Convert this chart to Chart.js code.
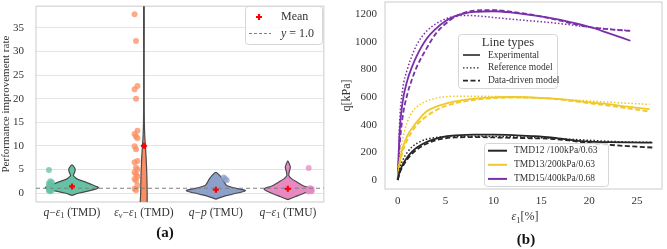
<!DOCTYPE html>
<html>
<head>
<meta charset="utf-8">
<script src="https://cdn.jsdelivr.net/npm/chart.js@4.4.1/dist/chart.umd.min.js"></script>
<style>
  body { margin: 0; background: #fff; }
  .panel { position: absolute; top: 0; height: 249px; }
  #panelA { left: 0; width: 330px; }
  #panelB { left: 330px; width: 337px; }
</style>
</head>
<body>
<div class="panel" id="panelA"><canvas id="violinChart"></canvas></div>
<div class="panel" id="panelB"><canvas id="curveChart"></canvas></div>
<script>
const SERIF = '"Liberation Serif", "DejaVu Serif", serif';
const TEXT = '#333333';

// (a) performance improvement rate
const groups = ['q−ε_1 (TMD)', 'ε_v−ε_1 (TMD)', 'q−p (TMU)', 'q−ε_1 (TMU)'];
const groupColors = ['#66c2a5', '#fc8d62', '#8da0cb', '#e78ac3'];
const ratesQE1TMD = [4.9, 2.5, 2.3, 2.1, 1.9, 1.7, 1.5, 1.4, 1.2, 1.1, 1.0, 0.9, 0.8, 0.7, 0.6, 0.5, 0.4];
const ratesEvE1TMD = [37.9, 32.2, 22.7, 22.0, 20.0, 13.2, 12.5, 12.0, 11.6, 9.9, 9.3, 6.8, 6.5, 5.4, 5.0, 4.4, 4.0, 3.5, 3.0, 2.6, 1.6, 0.9, 0.6];
const ratesQPTMU = [3.3, 3.0, 2.7, 0.9, 0.8, 0.7, 0.6, 0.5, 0.5, 0.4, 0.3, 0.2];
const ratesQE1TMU = [5.3, 1.0, 0.9, 0.8, 0.7, 0.6, 0.5, 0.5, 0.4, 0.3];
const groupMeans = [1.4, 10.0, 0.7, 0.9];
const referenceRate = 1.0;
const rateTicks = [0, 5, 10, 15, 20, 25, 30, 35];

// violin outlines as [rate, half width]
const violinQE1TMD = [[-0.5, 0], [0, 0.1], [0.5, 0.25], [1.1, 0.37], [1.7, 0.29], [2.3, 0.19], [3.0, 0.07], [3.7, 0.02], [4.3, 0.035], [5.0, 0.045], [5.5, 0.03], [5.95, 0]];
const violinEvE1TMD = [[-4, 0.045], [0, 0.045], [3, 0.042], [6, 0.035], [9, 0.025], [12, 0.012], [15, 0.006], [20, 0.004], [30, 0.004], [42, 0.004]];
const violinQPTMU = [[-1.3, 0], [-0.8, 0.09], [-0.2, 0.24], [0.5, 0.41], [1.0, 0.28], [1.6, 0.15], [2.2, 0.12], [3.0, 0.09], [3.7, 0.055], [4.4, 0]];
const violinQE1TMU = [[-1.4, 0], [-0.8, 0.1], [-0.2, 0.2], [0.5, 0.3], [0.9, 0.33], [1.5, 0.22], [2.3, 0.13], [3.0, 0.055], [3.7, 0.014], [4.5, 0.02], [5.5, 0.035], [6.2, 0.02], [6.8, 0]];

// (b) deviatoric stress vs axial strain
const strainTMD12 = [0, 0.2, 0.5, 1, 1.5, 2, 3, 4, 5, 6, 8, 10, 12, 14, 16, 18, 20, 22, 24, 26.6];
const qExpTMD12 = [0, 60, 110, 165, 205, 235, 275, 300, 315, 322, 328, 328, 325, 318, 308, 290, 277, 274, 272, 270];
const qRefTMD12 = [0, 80, 140, 200, 240, 265, 295, 308, 314, 316, 316, 315, 312, 308, 302, 295, 287, 280, 275, 272];
const qDDTMD12 = [0, 50, 95, 150, 190, 220, 262, 288, 302, 308, 310, 308, 305, 302, 298, 285, 268, 255, 245, 235];
const strainTMD13 = [0, 0.2, 0.5, 1, 1.5, 2, 3, 4, 5, 6, 8, 10, 12, 14, 16, 18, 20, 22, 24, 26.3];
const qExpTMD13 = [0, 130, 230, 320, 375, 420, 495, 530, 552, 568, 588, 598, 600, 598, 590, 578, 562, 548, 530, 512];
const qRefTMD13 = [0, 160, 290, 420, 490, 530, 570, 592, 602, 606, 606, 604, 600, 594, 588, 580, 572, 563, 555, 547];
const qDDTMD13 = [0, 110, 200, 290, 350, 400, 460, 505, 535, 555, 580, 592, 596, 595, 588, 573, 555, 538, 518, 495];
const strainTMD15 = [0, 0.2, 0.5, 1, 1.5, 2, 3, 4, 5, 6, 7, 8, 10, 12, 14, 16, 18, 20, 22, 24.3];
const qExpTMD15 = [0, 350, 560, 720, 820, 900, 1020, 1095, 1150, 1185, 1205, 1215, 1220, 1210, 1192, 1170, 1142, 1108, 1062, 1007];
const qRefTMD15 = [0, 420, 650, 800, 900, 980, 1075, 1130, 1165, 1185, 1190, 1188, 1175, 1162, 1150, 1138, 1122, 1105, 1092, 1080];
const qDDTMD15 = [0, 250, 450, 620, 730, 820, 950, 1060, 1130, 1180, 1210, 1225, 1228, 1215, 1195, 1168, 1135, 1105, 1090, 1078];
const specimens = ['TMD12 /100kPa/0.63', 'TMD13/200kPa/0.63', 'TMD15/400kPa/0.68'];
const specimenColors = ['#262626', '#efc92b', '#7a30a8'];
const lineTypes = ['Experimental', 'Reference model', 'Data-driven model'];
const lineDashes = [[], [1.5, 2], [5, 2.5]];
const strainTicks = [0, 5, 10, 15, 20, 25];
const qTicks = [0, 200, 400, 600, 800, 1000, 1200];

function hexA(hex, a) {
  const n = parseInt(hex.slice(1), 16);
  return 'rgba(' + (n >> 16) + ',' + ((n >> 8) & 255) + ',' + (n & 255) + ',' + a + ')';
}

// draws "q−ε_1 (TMD)" style labels: letters italic, _x subscript
function drawMath(ctx, str, cx, cy, size) {
  const cut = str.indexOf(' (');
  const math = cut < 0 ? str : str.slice(0, cut);
  const runs = [];
  for (let i = 0; i < math.length; i++) {
    const c = math[i];
    if (c === '_') {
      const s = math[++i];
      runs.push({t: s, it: /[a-z]/.test(s), sub: true});
    } else {
      runs.push({t: c, it: /[a-zA-Zα-ω]/.test(c), sub: false});
    }
  }
  if (cut >= 0) runs.push({t: str.slice(cut), it: false, sub: false});
  const fontFor = r => (r.it ? 'italic ' : '') + (r.sub ? size * 0.7 : size) + 'px ' + SERIF;
  let w = 0;
  runs.forEach(r => { ctx.font = fontFor(r); r.w = ctx.measureText(r.t).width; w += r.w; });
  let x = cx - w / 2;
  ctx.fillStyle = TEXT;
  ctx.textAlign = 'left';
  ctx.textBaseline = 'middle';
  runs.forEach(r => {
    ctx.font = fontFor(r);
    ctx.fillText(r.t, x, cy + (r.sub ? size * 0.28 : 0));
    x += r.w;
  });
}

function legendBox(ctx, x, y, w, h) {
  ctx.save();
  ctx.fillStyle = 'rgba(255,255,255,0.85)';
  ctx.strokeStyle = '#d6d6d6';
  ctx.lineWidth = 1;
  ctx.beginPath();
  ctx.roundRect(x + 0.5, y + 0.5, w, h, 3);
  ctx.fill();
  ctx.stroke();
  ctx.restore();
}

// keep the plot area where the layout padding puts it
function noEdgePadding(s) {
  s.paddingTop = 0; s.paddingBottom = 0; s.paddingLeft = 0; s.paddingRight = 0;
}

const framePlugin = {
  id: 'frame',
  beforeDatasetsDraw(chart) {
    const {ctx, chartArea: a} = chart;
    ctx.save();
    ctx.strokeStyle = '#d4d4d4';
    ctx.lineWidth = 1.2;
    ctx.strokeRect(a.left, a.top, a.right - a.left, a.bottom - a.top);
    ctx.restore();
  }
};

// ---------- panel (a) ----------
const allRates = [ratesQE1TMD, ratesEvE1TMD, ratesQPTMU, ratesQE1TMU];
const allViolins = [violinQE1TMD, violinEvE1TMD, violinQPTMU, violinQE1TMU];
const stripShift = [-0.30, -0.11, 0.13, 0.31];

const violinSets = allViolins.map((prof, i) => {
  const right = prof.map(([y, w]) => ({x: i + w, y: y}));
  const left = prof.slice().reverse().filter(([y, w]) => w > 0).map(([y, w]) => ({x: i - w, y: y}));
  const pts = right.concat(left);
  pts.push(pts[0]);
  return {
    data: pts, showLine: true, fill: 'shape',
    backgroundColor: groupColors[i], borderColor: '#4a4a4a', borderWidth: 1.2,
    pointRadius: 0, tension: 0.3, order: 3
  };
});

const stripSets = allRates.map((vals, i) => ({
  data: vals.map((v, k) => ({x: i + stripShift[i] + ((k % 3) - 1) * 0.02, y: v})),
  showLine: false, pointRadius: 3, borderWidth: 0,
  backgroundColor: hexA(groupColors[i], 0.75), order: 2
}));

const meanSet = {
  data: groupMeans.map((m, i) => ({x: i, y: m})),
  showLine: false, pointStyle: 'cross', pointRadius: 3,
  borderColor: '#ff0000', borderWidth: 2.2, order: 0
};

const refSet = {
  data: [{x: -0.5, y: referenceRate}, {x: 3.5, y: referenceRate}],
  showLine: true, borderColor: '#808080', borderWidth: 1.1, borderDash: [4, 3],
  pointRadius: 0, order: 1
};

const violinDecor = {
  id: 'violinDecor',
  afterDraw(chart) {
    const {ctx, scales} = chart;
    ctx.save();
    groups.forEach((g, i) => drawMath(ctx, g, scales.x.getPixelForValue(i), 213, 11.5));
    ctx.font = 'bold 15px ' + SERIF;
    ctx.textAlign = 'center';
    ctx.textBaseline = 'middle';
    ctx.fillStyle = '#111';
    ctx.fillText('(a)', 165, 233);
    // legend
    legendBox(ctx, 245, 6, 77, 38);
    ctx.strokeStyle = '#ff0000';
    ctx.lineWidth = 2.2;
    ctx.beginPath();
    ctx.moveTo(256, 17); ctx.lineTo(262, 17);
    ctx.moveTo(259, 14); ctx.lineTo(259, 20);
    ctx.stroke();
    ctx.strokeStyle = '#808080';
    ctx.lineWidth = 1.1;
    ctx.setLineDash([3, 2]);
    ctx.beginPath();
    ctx.moveTo(249, 33.5); ctx.lineTo(271, 33.5);
    ctx.stroke();
    ctx.setLineDash([]);
    ctx.fillStyle = TEXT;
    ctx.textAlign = 'left';
    ctx.font = '12px ' + SERIF;
    ctx.fillText('Mean', 281, 17);
    ctx.font = 'italic 12px ' + SERIF;
    ctx.fillText('y', 281, 33.5);
    const yw = ctx.measureText('y').width;
    ctx.font = '12px ' + SERIF;
    ctx.fillText(' = 1.0', 281 + yw, 33.5);
    ctx.restore();
  }
};

new Chart(document.getElementById('violinChart'), {
  type: 'scatter',
  data: {datasets: [meanSet, refSet].concat(stripSets, violinSets)},
  options: {
    responsive: true,
    maintainAspectRatio: false,
    animation: false,
    events: [],
    layout: {padding: {top: 2, right: 5, left: 0, bottom: 0}},
    plugins: {legend: {display: false}, tooltip: {enabled: false}},
    scales: {
      x: {
        type: 'linear', min: -0.5, max: 3.5,
        grid: {display: false, drawTicks: false}, border: {display: false},
        ticks: {display: false},
        afterFit(s) { s.height = 47; noEdgePadding(s); }
      },
      y: {
        type: 'linear', min: -1.9, max: 39.6,
        afterBuildTicks(s) { s.ticks = rateTicks.map(v => ({value: v})); },
        grid: {color: '#e4e4e4', lineWidth: 1, drawTicks: false},
        border: {display: false},
        ticks: {color: TEXT, padding: 12, font: {family: SERIF, size: 11}},
        title: {display: true, text: 'Performance improvement rate', color: TEXT, padding: 0, font: {family: SERIF, size: 11}},
        afterFit(s) { s.width = 36; noEdgePadding(s); }
      }
    }
  },
  plugins: [framePlugin, violinDecor]
});

// ---------- panel (b) ----------
const strains = [strainTMD12, strainTMD13, strainTMD15];
const stresses = [[qExpTMD12, qRefTMD12, qDDTMD12], [qExpTMD13, qRefTMD13, qDDTMD13], [qExpTMD15, qRefTMD15, qDDTMD15]];

const curveSets = [];
stresses.forEach((triple, s) => {
  triple.forEach((qs, t) => {
    curveSets.push({
      data: qs.map((q, k) => ({x: strains[s][k], y: q})),
      showLine: true, pointRadius: 0,
      borderColor: specimenColors[s],
      borderWidth: t === 1 ? 1.5 : 1.8,
      borderDash: lineDashes[t],
      cubicInterpolationMode: 'monotone'
    });
  });
});

const curveDecor = {
  id: 'curveDecor',
  afterDraw(chart) {
    const {ctx} = chart;
    ctx.save();
    drawMath(ctx, 'ε_1[%]', 195, 217, 12);
    ctx.font = 'bold 15px ' + SERIF;
    ctx.textAlign = 'center';
    ctx.textBaseline = 'middle';
    ctx.fillStyle = '#111';
    ctx.fillText('(b)', 196, 240);
    // line type legend
    legendBox(ctx, 128, 34, 99, 54);
    ctx.fillStyle = TEXT;
    ctx.font = '12.5px ' + SERIF;
    ctx.fillText('Line types', 178, 43);
    ctx.textAlign = 'left';
    ctx.font = '9.5px ' + SERIF;
    lineTypes.forEach((name, t) => {
      const y = 55 + t * 12.8;
      ctx.strokeStyle = '#262626';
      ctx.lineWidth = t === 1 ? 1.3 : 1.6;
      ctx.setLineDash(lineDashes[t]);
      ctx.beginPath();
      ctx.moveTo(133, y); ctx.lineTo(150, y);
      ctx.stroke();
      ctx.fillStyle = TEXT;
      ctx.fillText(name, 158, y);
    });
    ctx.setLineDash([]);
    // specimen legend
    legendBox(ctx, 154, 143, 124, 43);
    specimens.forEach((name, s) => {
      const y = 150.7 + s * 14.1;
      ctx.strokeStyle = specimenColors[s];
      ctx.lineWidth = 2;
      ctx.beginPath();
      ctx.moveTo(158, y); ctx.lineTo(177, y);
      ctx.stroke();
      ctx.fillStyle = TEXT;
      ctx.fillText(name, 184, y);
    });
    ctx.restore();
  }
};

new Chart(document.getElementById('curveChart'), {
  type: 'scatter',
  data: {datasets: curveSets},
  options: {
    responsive: true,
    maintainAspectRatio: false,
    animation: false,
    events: [],
    layout: {padding: {top: 2, right: 5, left: 0, bottom: 0}},
    plugins: {legend: {display: false}, tooltip: {enabled: false}},
    scales: {
      x: {
        type: 'linear', min: -1.33, max: 27.6,
        afterBuildTicks(s) { s.ticks = strainTicks.map(v => ({value: v})); },
        grid: {display: false, drawTicks: false}, border: {display: false},
        ticks: {color: TEXT, padding: 6, font: {family: SERIF, size: 11}, callback: v => String(v)},
        afterFit(s) { s.height = 60; noEdgePadding(s); }
      },
      y: {
        type: 'linear', min: -65, max: 1287,
        afterBuildTicks(s) { s.ticks = qTicks.map(v => ({value: v})); },
        grid: {display: false, drawTicks: false}, border: {display: false},
        ticks: {color: TEXT, padding: 8, font: {family: SERIF, size: 11}, callback: v => String(v)},
        title: {display: true, text: 'q[kPa]', color: TEXT, padding: {top: 10, bottom: 0}, font: {family: SERIF, size: 12}},
        afterFit(s) { s.width = 55; noEdgePadding(s); }
      }
    }
  },
  plugins: [framePlugin, curveDecor]
});
</script>
</body>
</html>
